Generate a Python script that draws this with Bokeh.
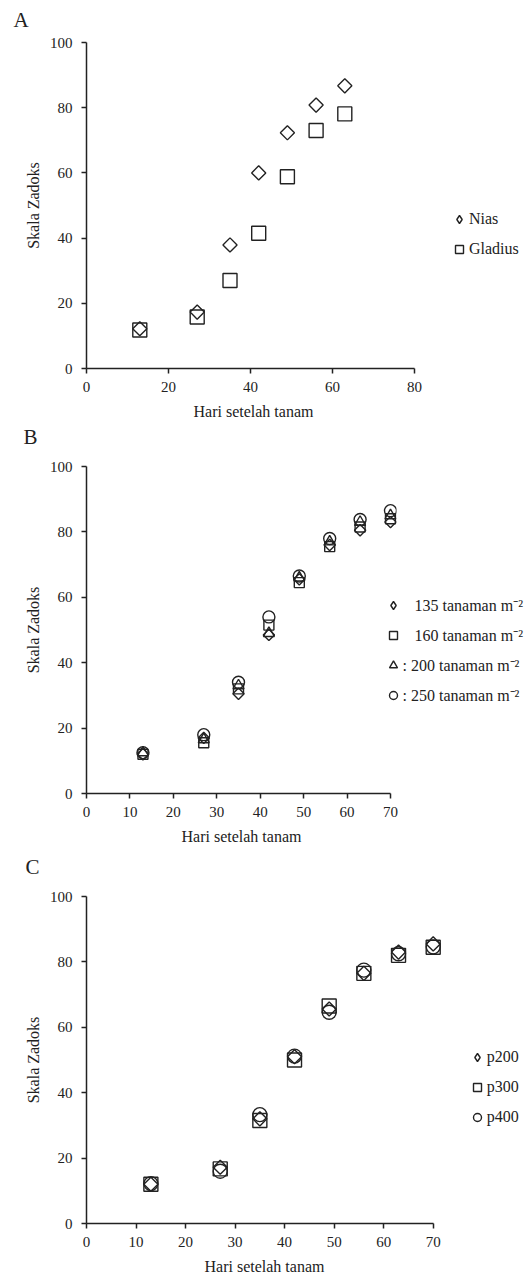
import numpy as np
from bokeh.plotting import figure
from bokeh.models import Legend, LegendItem, FixedTicker, Range1d, Title
from bokeh.embed import file_html
from bokeh.resources import INLINE

# ---------------- data ----------------
days_a = [13, 27, 35, 42, 49, 56, 63]
nias = [12.2, 17.3, 37.9, 60.0, 72.3, 80.8, 86.7]
gladius = [11.8, 15.8, 27.0, 41.5, 58.8, 73.0, 78.1]

days_bc = [13, 27, 35, 42, 49, 56, 63, 70]
d135 = [12.0, 17.0, 30.5, 48.5, 65.5, 76.0, 80.5, 83.0]
d160 = [12.0, 15.5, 32.0, 51.5, 64.5, 75.5, 81.5, 84.0]
d200 = [12.5, 16.5, 33.0, 49.0, 66.0, 77.0, 83.0, 85.0]
d250 = [12.5, 18.0, 34.0, 54.0, 66.5, 78.0, 83.8, 86.5]

p200 = [12.0, 17.2, 32.0, 51.0, 65.6, 76.5, 83.0, 85.5]
p300 = [12.0, 16.7, 31.5, 50.0, 66.5, 76.5, 82.0, 84.5]
p400 = [12.2, 16.0, 33.3, 51.2, 64.6, 77.5, 82.5, 84.6]

labels_a = ["Nias", "Gladius"]
labels_b = ["\u00a0\u00a0\u00a0135 tanaman m\u207b\u00b2", "\u00a0\u00a0\u00a0160 tanaman m\u207b\u00b2",
            ": 200 tanaman m\u207b\u00b2", ": 250 tanaman m\u207b\u00b2"]
labels_c = ["p200", "p300", "p400"]

xticks_a = [0, 20, 40, 60, 80]
xticks_bc = [0, 10, 20, 30, 40, 50, 60, 70]
yticks = [0, 20, 40, 60, 80, 100]

FONT = "Liberation Serif"
INK = "#222222"


def make_fig(fw, fh, br, bt, bb, xend, xmax, xticks, letter, loff, spacer_standoff):
    p = figure(frame_width=fw, frame_height=fh, output_backend="svg", toolbar_location=None,
               x_range=Range1d(0, xend), y_range=Range1d(0, 100),
               min_border_left=86, min_border_right=br, min_border_top=bt,
               min_border_bottom=bb)
    p.outline_line_color = None
    p.xgrid.grid_line_color = None
    p.ygrid.grid_line_color = None
    p.xaxis.ticker = FixedTicker(ticks=xticks)
    p.yaxis.ticker = FixedTicker(ticks=yticks)
    p.xaxis.bounds = (0, xmax)
    p.xaxis.axis_label = "Hari setelah tanam"
    p.yaxis.axis_label = "Skala Zadoks"
    for ax in (p.xaxis[0], p.yaxis[0]):
        ax.axis_line_color = INK
        ax.axis_line_width = 1.5
        ax.major_tick_line_color = INK
        ax.major_tick_line_width = 1.5
        ax.major_tick_in = 0
        ax.major_tick_out = 5
        ax.minor_tick_line_color = None
        ax.major_label_text_font = FONT
        ax.major_label_text_font_size = "15px"
        ax.major_label_text_color = INK
        ax.axis_label_text_font = FONT
        ax.axis_label_text_font_size = "16px"
        ax.axis_label_text_font_style = "normal"
        ax.axis_label_text_color = INK
    p.xaxis[0].major_label_standoff = 8
    p.xaxis[0].axis_label_standoff = 8
    p.yaxis[0].major_label_standoff = 9
    p.yaxis[0].axis_label_standoff = 5
    # spacer between the frame and the panel letter, then the letter itself
    p.add_layout(Title(text=" ", standoff=spacer_standoff, text_font=FONT,
                       text_font_size="8px"), "above")
    p.add_layout(Title(text=letter, align="left", offset=loff, standoff=0,
                       vertical_align="bottom", text_font=FONT, text_font_size="21px",
                       text_font_style="normal", text_color=INK), "above")
    return p


def legend(items, loc, spacing):
    return Legend(items=items, location=loc, orientation="vertical",
                  glyph_width=20, glyph_height=24, label_height=24, spacing=spacing,
                  padding=0, margin=0, label_standoff=-3,
                  border_line_color=None, background_fill_alpha=0,
                  inactive_fill_alpha=0,
                  label_text_font=FONT, label_text_font_size="16px",
                  label_text_color=INK, label_text_baseline="middle")


MK = dict(fill_color=None, line_color=INK, line_width=1.4)

# ---------------- Panel A ----------------
pa = make_fig(334, 326, 105, 42, 53, 334 / 4.1, 80, xticks_a, "A", -73, 0)
ra1 = pa.scatter(days_a, nias, marker="square", angle=np.pi / 4, size=10, **MK)
ra2 = pa.scatter(days_a, gladius, marker="square", size=14, **MK)
la1 = pa.scatter(days_a, nias, marker="diamond", size=10, visible=False, **MK)
pa.add_layout(legend([LegendItem(label=labels_a[0], renderers=[la1]),
                      LegendItem(label=labels_a[1], renderers=[ra2])], (29, 107), 6), "right")

# ---------------- Panel B ----------------
pb = make_fig(310, 327, 120, 43, 59, 310 / (304 / 70), 70, xticks_bc, "B", -63, 7)
rb1 = pb.scatter(days_bc, d135, marker="square", angle=np.pi / 4, size=8, **MK)
rb2 = pb.scatter(days_bc, d160, marker="square", size=10, **MK)
rb3 = pb.scatter(days_bc, d200, marker="triangle", size=11, **MK)
rb4 = pb.scatter(days_bc, d250, marker="circle", size=12, **MK)
lb1 = pb.scatter(days_bc, d135, marker="diamond", size=8, visible=False, **MK)
pb.add_layout(legend([LegendItem(label=labels_b[i], renderers=[r])
                      for i, r in enumerate([lb1, rb2, rb3, rb4])], (-13.5, 86), 6), "right")

# ---------------- Panel C ----------------
pc = make_fig(356, 327, 83, 44, 53, 356 / (346.7 / 70), 70, xticks_bc, "C", -61, 7)
rc1 = pc.scatter(days_bc, p200, marker="square", angle=np.pi / 4, size=10, **MK)
rc2 = pc.scatter(days_bc, p300, marker="square", size=14, **MK)
rc3 = pc.scatter(days_bc, p400, marker="circle", size=14, **MK)
lc1 = pc.scatter(days_bc, p200, marker="diamond", size=10, visible=False, **MK)
pc.add_layout(legend([LegendItem(label=labels_c[i], renderers=[r])
                      for i, r in enumerate([lc1, rc2, rc3])], (24.7, 94), 6), "right")

open("out.html", "w").write(file_html([pa, pb, pc], INLINE))
